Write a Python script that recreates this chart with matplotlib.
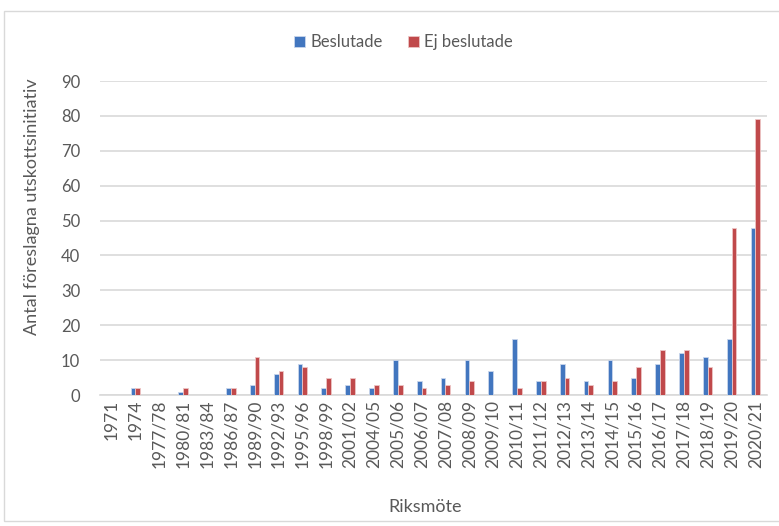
import matplotlib
matplotlib.use("Agg")
import matplotlib.pyplot as plt
import numpy as np

plt.rcParams["font.family"] = ["Lato", "DejaVu Sans"]

sessions = ["1971", "1974", "1977/78", "1980/81", "1983/84", "1986/87", "1989/90",
            "1992/93", "1995/96", "1998/99", "2001/02", "2004/05", "2005/06", "2006/07",
            "2007/08", "2008/09", "2009/10", "2010/11", "2011/12", "2012/13", "2013/14",
            "2014/15", "2015/16", "2016/17", "2017/18", "2018/19", "2019/20", "2020/21"]
beslutade = [0, 2, 0, 1, 0, 2, 3, 6, 9, 2, 3, 2, 10, 4, 5, 10, 7, 16, 4, 9, 4, 10, 5, 9, 12, 11, 16, 48]
ej_beslutade = [0, 2, 0, 2, 0, 2, 11, 7, 8, 5, 5, 3, 3, 2, 3, 4, 0, 2, 4, 5, 3, 4, 8, 13, 13, 8, 48, 79]

blue = "#4276BF"
red = "#C0494B"
grey = "#595959"

fig = plt.figure(figsize=(7.79, 5.26), dpi=100)
ax = fig.add_axes([0.128, 0.249, 0.857, 0.597])

# outer chart frame
fig.patches.append(plt.Rectangle((0.005, 0.01), 1.2, 0.97, transform=fig.transFigure,
                                 fill=False, edgecolor="#D9D9D9", linewidth=1))

x = np.arange(len(sessions))
w = 0.2
ax.bar(x - w / 2, beslutade, w, color=blue, edgecolor="#C9D6EC", linewidth=0.6, label="Beslutade", zorder=3)
ax.bar(x + w / 2, ej_beslutade, w, color=red, edgecolor="#EDC5C5", linewidth=0.6, label="Ej beslutade", zorder=3)

ax.set_xlim(-0.5, len(sessions) - 0.5)
ax.set_ylim(0, 90)
ax.set_yticks(range(0, 91, 10))
ax.yaxis.grid(True, color="#D9D9D9", linewidth=1.2, zorder=0)
for s in ["top", "right", "left"]:
    ax.spines[s].set_visible(False)
ax.spines["bottom"].set_color("#D9D9D9")
ax.spines["bottom"].set_linewidth(1.2)
ax.tick_params(length=0, colors=grey, labelsize=12)
ax.tick_params(axis="x", labelsize=12.5)
ax.tick_params(axis="y", pad=14)
ax.set_xticks(x)
ax.set_xticklabels(sessions, rotation=90)

ax.set_ylabel("Antal föreslagna utskottsinitiativ", color=grey, fontsize=13)
ax.yaxis.set_label_coords(-0.09, 0.6)
ax.set_xlabel("Riksmöte", color=grey, fontsize=13)
ax.xaxis.set_label_coords(0.487, -0.33)

ax.legend(loc="lower center", bbox_to_anchor=(0.455, 1.05), ncol=2, frameon=False,
          fontsize=12, labelcolor=grey, handlelength=0.7, handleheight=0.7,
          handletextpad=0.3, columnspacing=1.5)

fig.savefig("out.png", dpi=100)
